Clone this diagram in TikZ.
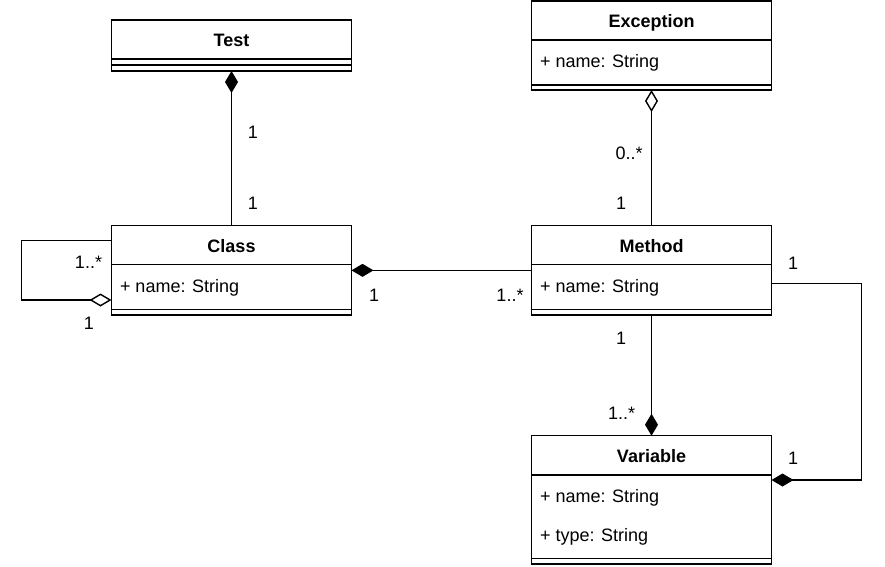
\documentclass[tikz,border=0pt]{standalone}
\usepackage{fontspec}
\setmainfont{Liberation Sans}
\usetikzlibrary{arrows.meta}
\begin{document}
\begin{tikzpicture}[x=1pt,y=-1pt,
  every node/.style={inner sep=0pt, outer sep=0pt, font=\fontsize{18}{22}\selectfont},
  cls/.style={draw, line width=1.4pt, minimum width=240pt},
  ln/.style={line width=1.4pt},
  comp/.style={ln, -{Diamond[length=22pt,width=13pt]}},
  aggr/.style={ln, -{Diamond[length=22pt,width=13pt,fill=white]}},
  ttl/.style={anchor=base, font=\fontsize{18}{22}\selectfont\bfseries},
  attr/.style={anchor=base west},
  mult/.style={anchor=base}
]
\useasboundingbox (0,0) rectangle (885,566);

% class boxes
\node[cls, minimum height=51pt]   (test)      at (231.5,45.5)  {};
\node[cls, minimum height=89pt]   (exception) at (651.5,45.5)  {};
\node[cls, minimum height=89.3pt] (class)     at (231.5,270.35) {};
\node[cls, minimum height=89.3pt] (method)    at (651.5,270.35) {};
\node[cls, minimum height=128.3pt] (variable) at (651.5,499.85) {};

% dividers
\draw[ln] (111.5,59) -- (351.5,59);
\draw[ln] (111.5,65) -- (351.5,65);
\draw[ln] (531.5,40) -- (771.5,40);
\draw[ln] (531.5,85) -- (771.5,85);
\draw[ln] (111.5,264.3) -- (351.5,264.3);
\draw[ln] (111.5,309.3) -- (351.5,309.3);
\draw[ln] (531.5,264.3) -- (771.5,264.3);
\draw[ln] (531.5,309.3) -- (771.5,309.3);
\draw[ln] (531.5,475) -- (771.5,475);
\draw[ln] (531.5,558.3) -- (771.5,558.3);

% titles
\node[ttl] (ttest) at (231.5,46.3) {Test};
\node[ttl] (texc)  at (651.5,27.5) {Exception};
\node[ttl] (tcls)  at (231.5,252.3) {Class};
\node[ttl] (tmeth) at (651.5,252.3) {Method};
\node[ttl] (tvar)  at (651.5,462) {Variable};

% attributes
\node[attr] (aexc)  at (540,67)  {+ name: String};
\node[attr] (acls)  at (120,292) {+ name: String};
\node[attr] (ameth) at (540,292) {+ name: String};
\node[attr] (avar1) at (540,502) {+ name: String};
\node[attr] (avar2) at (540,541) {+ type: String};

% connectors
\draw[comp] (class.north) -- (test.south);
\draw[comp] (method.west) -- (class.east);
\draw[aggr] (method.north) -- (exception.south);
\draw[comp] (method.south) -- (variable.north);
\draw[comp] ([yshift=-13.2pt]method.east) -- ++(90,0) |- ([yshift=19.85pt]variable.east);
\draw[aggr] ([yshift=29.65pt]class.west) -- ++(-90,0) |- ([yshift=-29.65pt]class.west);

% multiplicities
\node[mult] (m1)  at (253,138.2) {1};
\node[mult] (m2)  at (253,209.2) {1};
\node[mult] (m3)  at (88.5,268.5) {1..*};
\node[mult] (m4)  at (89,329.5) {1};
\node[mult] (m5)  at (374,301.5) {1};
\node[mult] (m6)  at (510,301.5) {1..*};
\node[mult] (m7)  at (629,159.8) {0..*};
\node[mult] (m8)  at (621,209.2) {1};
\node[mult] (m9)  at (793,269.5) {1};
\node[mult] (m10) at (621,344.8) {1};
\node[mult] (m11) at (621.7,419.5) {1..*};
\node[mult] (m12) at (793,464.8) {1};
\end{tikzpicture}
\end{document}
